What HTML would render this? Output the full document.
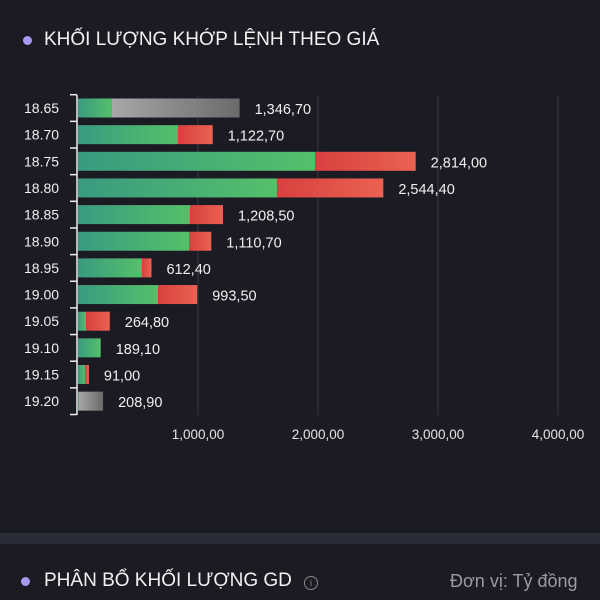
<!DOCTYPE html>
<html><head><meta charset="utf-8"><style>
body{margin:0;width:600px;height:600px;background:#1b1b24;overflow:hidden;font-family:"Liberation Sans",sans-serif;position:relative}
.t{position:absolute;color:#f2f2f2;font-size:19px;letter-spacing:0px}
.dot{position:absolute;width:9px;height:9px;border-radius:50%;background:#a99af0}
</style></head><body>
<div class="dot" style="left:23px;top:36px"></div>
<div class="t" style="left:44px;top:29px">KHỐI LƯỢNG KHỚP LỆNH THEO GIÁ</div>
<svg id="c" width="600" height="460" style="position:absolute;left:0;top:0"></svg>
<div style="position:absolute;left:0;top:533px;width:600px;height:11px;background:#2a2c37"></div>
<div class="dot" style="left:21px;top:577px"></div>
<div class="t" style="left:44px;top:570px">PHÂN BỔ KHỐI LƯỢNG GD</div>
<div style="position:absolute;left:304px;top:576px;width:12px;height:12px;border:1px solid #888;border-radius:50%;color:#888;font-size:9px;text-align:center;line-height:12px">i</div>
<div style="position:absolute;left:450px;top:571px;color:#9a9aa2;font-size:18px">Đơn vị: Tỷ đồng</div>
<script>
const prices=["18.65","18.70","18.75","18.80","18.85","18.90","18.95","19.00","19.05","19.10","19.15","19.20"];
const totals=[1346.70,1122.70,2814.00,2544.40,1208.50,1110.70,612.40,993.50,264.80,189.10,91.00,208.90];
const buyVals=[283,833,1975,1658,933,925,533,667,67,189.1,58,5];
const remKind=["gray","red","red","red","red","red","red","red","red","red","red","gray"];
const ticks=[1000,2000,3000,4000];
const labels=["1,000,00","2,000,00","3,000,00","4,000,00"];
const fmt=v=>{let s=v.toFixed(2).split('.');return s[0].replace(/\B(?=(\d{3})+(?!\d))/g,',')+','+s[1];};
const svg=document.getElementById('c'),NS='http://www.w3.org/2000/svg';
const X=v=>78+v*0.12, Y=i=>108+i*26.65;
function mk(t,a,p){const e=document.createElementNS(NS,t);for(const k in a)e.setAttribute(k,a[k]);(p||svg).appendChild(e);return e;}
const defs=mk('defs',{});
[["g","#3a9a80","#55c06a"],["r","#d8403f","#ea6252"],["y","#a8a8a8","#6a6a6a"]].forEach(([id,a,b])=>{const lg=mk('linearGradient',{id:id,x1:0,x2:1,y1:0,y2:0},defs);mk('stop',{offset:0,'stop-color':a},lg);mk('stop',{offset:1,'stop-color':b},lg);});
ticks.forEach((t,i)=>{
const l=mk('line',{x1:X(t),x2:X(t),y1:95,y2:415,stroke:'#3a3a44','stroke-width':1});

const tx=mk('text',{x:X(t),y:439,fill:'#e6e6e6','font-size':13.5,'text-anchor':'middle'});tx.textContent=labels[i];

});
prices.forEach((p,i)=>{
const y=Y(i);
const lab=mk('text',{x:24,y:y+5,fill:'#f0f0f0','font-size':14});lab.textContent=p;

const g=mk('rect',{x:X(0),y:y-9.5,width:X(buyVals[i])-X(0),height:19,fill:'url(#g)'});

const r=mk('rect',{x:X(buyVals[i]),y:y-9.5,width:Math.max(0,X(totals[i])-X(buyVals[i])),height:19,fill:remKind[i]=="gray"?'url(#y)':'url(#r)'});

const v=mk('text',{x:X(totals[i])+15,y:y+6,fill:'#f0f0f0','font-size':14.5});v.textContent=fmt(totals[i]);

});
const ax=mk('line',{x1:77,x2:77,y1:95,y2:415,stroke:'#eee','stroke-width':1.5});

for(let i=0;i<=prices.length;i++){const yy=Y(i)-13.3;const tk=mk('line',{x1:70,x2:77,y1:yy,y2:yy,stroke:'#eee','stroke-width':1.5});
}
</script>
</body></html>
